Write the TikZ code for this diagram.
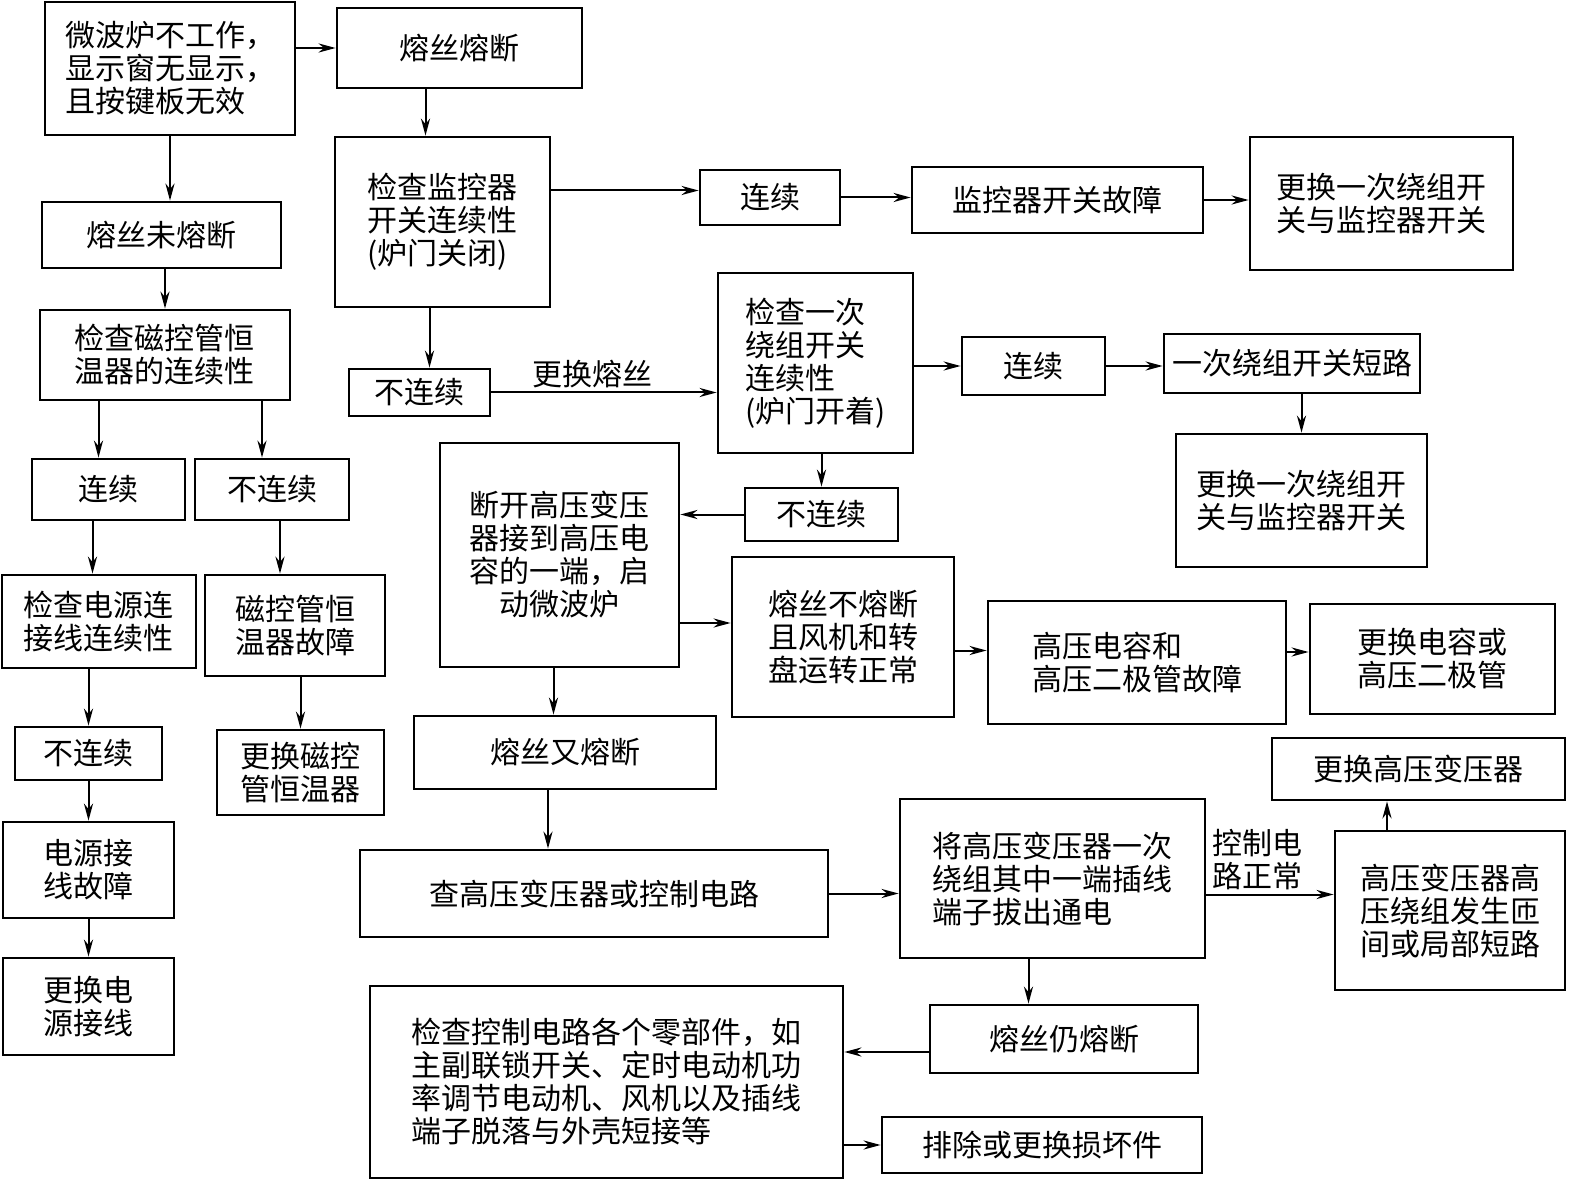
\documentclass[tikz,border=0pt]{standalone}
\usepackage{fontspec}
\setmainfont{Noto Sans CJK SC}
\usetikzlibrary{arrows.meta}
\tikzset{
    flowbox/.style={rectangle,draw,line width=1.4pt,align=center,inner sep=2pt,font=\fontsize{15}{16.5}\selectfont},
    boxsize/.style 2 args={minimum width=#1,minimum height=#2},
    flowline/.style={-{Stealth[length=3mm,width=1.6mm]},line width=1pt},
    flowlabel/.style={font=\fontsize{15}{16.5}\selectfont,align=left,inner sep=2pt}
}
\begin{document}
\begin{tikzpicture}[x=0.5pt,y=-0.5pt]
    \useasboundingbox (0,0) rectangle (1570,1182);
    % left branch
    \node[flowbox,boxsize={125pt}{66.5pt},align=left] (start) at (170,68.5) {微波炉不工作，\\显示窗无显示，\\且按键板无效};
    \node[flowbox,boxsize={119.5pt}{33pt}] (nofuse) at (161.5,235) {熔丝未熔断};
    \node[flowbox,boxsize={125pt}{45pt}] (chkmag) at (165,355) {检查磁控管恒\\温器的连续性};
    \node[flowbox,boxsize={76.5pt}{30.5pt}] (lcont) at (108.5,489.5) {连续};
    \node[flowbox,boxsize={77pt}{30.5pt}] (lbreak) at (272,489.5) {不连续};
    \node[flowbox,boxsize={97pt}{46.5pt}] (chkpow) at (99,621.5) {检查电源连\\接线连续性};
    \node[flowbox,boxsize={90pt}{50.5pt}] (magfault) at (295,625.5) {磁控管恒\\温器故障};
    \node[flowbox,boxsize={73.5pt}{26.5pt}] (powbreak) at (88.5,753.5) {不连续};
    \node[flowbox,boxsize={83.5pt}{42.5pt}] (repmag) at (300.5,772.5) {更换磁控\\管恒温器};
    \node[flowbox,boxsize={85.5pt}{48pt}] (powfault) at (88.5,870) {电源接\\线故障};
    \node[flowbox,boxsize={85.5pt}{48.5pt}] (reppow) at (88.5,1006.5) {更换电\\源接线};
    % fuse blown branch
    \node[flowbox,boxsize={122.5pt}{40pt}] (fuse) at (459.5,48) {熔丝熔断};
    \node[flowbox,boxsize={107.5pt}{85pt},align=left] (chkmon) at (442.5,222) {检查监控器\\开关连续性\\(炉门关闭)};
    \node[flowbox,boxsize={70pt}{27.5pt}] (moncont) at (770,197.5) {连续};
    \node[flowbox,boxsize={145.5pt}{33pt}] (monfault) at (1057.5,200) {监控器开关故障};
    \node[flowbox,boxsize={131.5pt}{66.5pt},align=left] (repsw1) at (1381.5,203.5) {更换一次绕组开\\关与监控器开关};
    \node[flowbox,boxsize={70.5pt}{23.5pt}] (monbreak) at (419.5,392.5) {不连续};
    \node[flowbox,boxsize={97.5pt}{90pt},align=left] (chkpri) at (815.5,363) {检查一次\\绕组开关\\连续性\\(炉门开着)};
    \node[flowbox,boxsize={71.5pt}{29pt}] (pricont) at (1033.5,366) {连续};
    \node[flowbox,boxsize={128pt}{29.5pt}] (prishort) at (1292,363.5) {一次绕组开关短路};
    \node[flowbox,boxsize={125.5pt}{66.5pt},align=left] (repsw2) at (1301.5,500.5) {更换一次绕组开\\关与监控器开关};
    \node[flowbox,boxsize={76.5pt}{26.5pt}] (pribreak) at (821.5,514.5) {不连续};
    \node[flowbox,boxsize={119.5pt}{112pt}] (hvtest) at (559.5,555) {断开高压变压\\器接到高压电\\容的一端，启\\动微波炉};
    \node[flowbox,boxsize={111pt}{80pt},align=left] (fuseok) at (843,637) {熔丝不熔断\\且风机和转\\盘运转正常};
    \node[flowbox,boxsize={149pt}{61.5pt},align=left] (capfault) at (1137,662.5) {高压电容和\\高压二极管故障};
    \node[flowbox,boxsize={122.5pt}{55pt},align=left] (repcap) at (1432.5,659) {更换电容或\\高压二极管};
    \node[flowbox,boxsize={151pt}{36.5pt}] (fuseagain) at (565,752.5) {熔丝又熔断};
    \node[flowbox,boxsize={234pt}{43.5pt}] (chkhv) at (594,893.5) {查高压变压器或控制电路};
    \node[flowbox,boxsize={152.5pt}{79.5pt},align=left] (unplug) at (1052.5,878.5) {将高压变压器一次\\绕组其中一端插线\\端子拔出通电};
    \node[flowbox,boxsize={115pt}{79.5pt},align=left] (hvshort) at (1450,910.5) {高压变压器高\\压绕组发生匝\\间或局部短路};
    \node[flowbox,boxsize={146.5pt}{31pt}] (rephv) at (1418.5,769) {更换高压变压器};
    \node[flowbox,boxsize={134pt}{34pt}] (stillblown) at (1064,1039) {熔丝仍熔断};
    \node[flowbox,boxsize={236.5pt}{96pt},align=left] (chkctl) at (606.5,1082) {检查控制电路各个零部件，如\\主副联锁开关、定时电动机功\\率调节电动机、风机以及插线\\端子脱落与外壳短接等};
    \node[flowbox,boxsize={160pt}{28pt}] (fixpart) at (1042,1145) {排除或更换损坏件};
    % connectors
    \draw[flowline] (start.east |- fuse.west) -- (fuse.west);
    \draw[flowline] (start.south) -- (start.south |- nofuse.north);
    \draw[flowline] (chkmag.north |- nofuse.south) -- (chkmag.north);
    \draw[flowline] ([xshift=-5pt]lcont.north |- chkmag.south) -- ([xshift=-5pt]lcont.north);
    \draw[flowline] ([xshift=-5pt]lbreak.north |- chkmag.south) -- ([xshift=-5pt]lbreak.north);
    \draw[flowline] ([xshift=-8pt]lcont.south) -- ([xshift=-8pt]lcont.south |- chkpow.north);
    \draw[flowline] ([xshift=4pt]lbreak.south) -- ([xshift=4pt]lbreak.south |- magfault.north);
    \draw[flowline] (powbreak.north |- chkpow.south) -- (powbreak.north);
    \draw[flowline] (repmag.north |- magfault.south) -- (repmag.north);
    \draw[flowline] (powbreak.south) -- (powfault.north);
    \draw[flowline] (powfault.south) -- (reppow.north);
    \draw[flowline] ([xshift=-8.5pt]chkmon.north |- fuse.south) -- ([xshift=-8.5pt]chkmon.north);
    \draw[flowline] ([yshift=3.5pt]moncont.west -| chkmon.east) -- ([yshift=3.5pt]moncont.west);
    \draw[flowline] (moncont.east) -- (moncont.east -| monfault.west);
    \draw[flowline] (monfault.east) -- (monfault.east -| repsw1.west);
    \draw[flowline] ([xshift=5pt]monbreak.north |- chkmon.south) -- ([xshift=5pt]monbreak.north);
    \draw[flowline] (monbreak.east) -- node[flowlabel,above,pos=0.45]{更换熔丝} (monbreak.east -| chkpri.west);
    \draw[flowline] (pricont.west -| chkpri.east) -- (pricont.west);
    \draw[flowline] (pricont.east) -- (pricont.east -| prishort.west);
    \draw[flowline] (repsw2.north |- prishort.south) -- (repsw2.north);
    \draw[flowline] (pribreak.north |- chkpri.south) -- (pribreak.north);
    \draw[flowline] (pribreak.west) -- (pribreak.west -| hvtest.east);
    \draw[flowline] ([yshift=7pt]fuseok.west -| hvtest.east) -- ([yshift=7pt]fuseok.west);
    \draw[flowline] ([yshift=6pt]capfault.west -| fuseok.east) -- ([yshift=6pt]capfault.west);
    \draw[flowline] ([yshift=3.5pt]repcap.west -| capfault.east) -- ([yshift=3.5pt]repcap.west);
    \draw[flowline] ([xshift=-3pt]hvtest.south) -- ([xshift=-3pt]hvtest.south |- fuseagain.north);
    \draw[flowline] ([xshift=-8.5pt]fuseagain.south) -- ([xshift=-8.5pt]fuseagain.south |- chkhv.north);
    \draw[flowline] (chkhv.east) -- (chkhv.east -| unplug.west);
    \draw[flowline] ([yshift=-8pt]unplug.east) -- node[flowlabel,above,pos=0.4]{控制电\\路正常} ([yshift=-8pt]unplug.east -| hvshort.west);
    \draw[flowline] ([xshift=-31.5pt]hvshort.north) -- ([xshift=-31.5pt]hvshort.north |- rephv.south);
    \draw[flowline] ([xshift=-12pt]unplug.south) -- ([xshift=-12pt]unplug.south |- stillblown.north);
    \draw[flowline] ([yshift=-6.5pt]stillblown.west) -- ([yshift=-6.5pt]stillblown.west -| chkctl.east);
    \draw[flowline] (fixpart.west -| chkctl.east) -- (fixpart.west);
\end{tikzpicture}
\end{document}
